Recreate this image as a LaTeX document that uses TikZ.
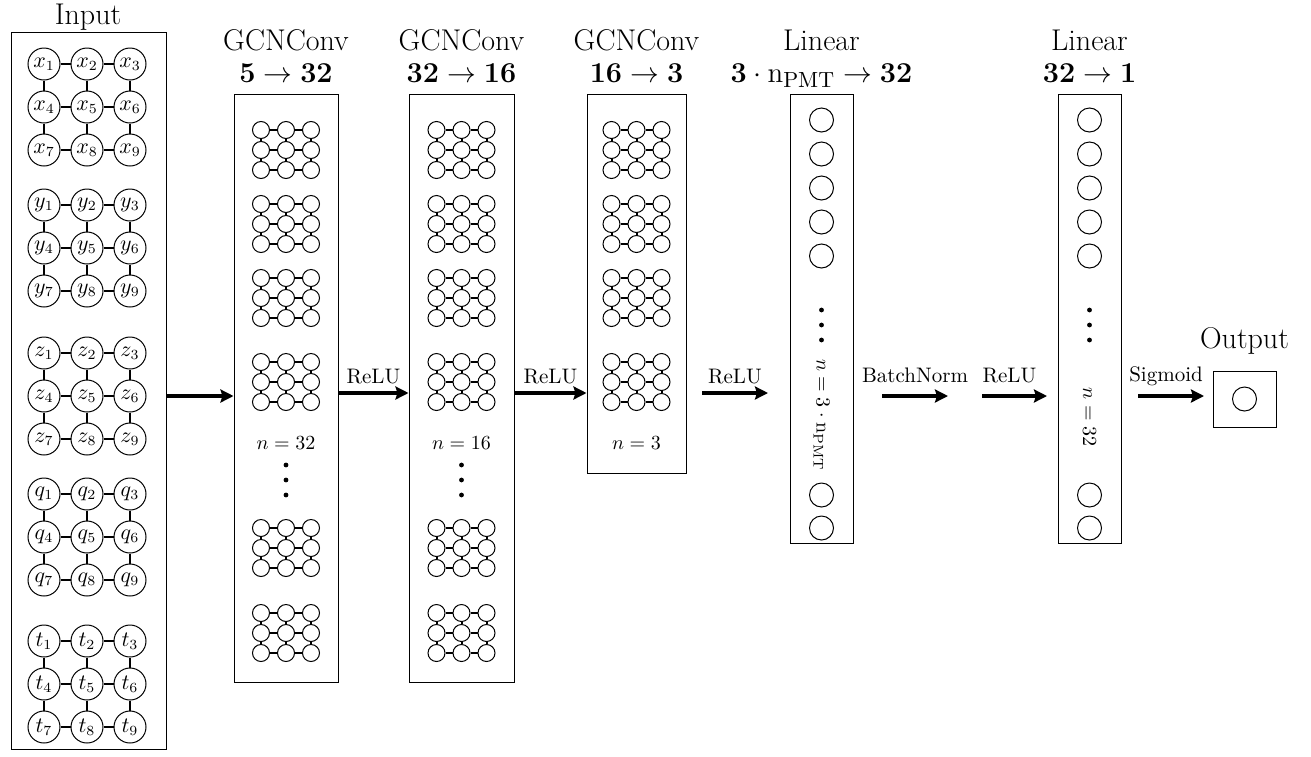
\documentclass[tikz,border=0pt]{standalone}
\usetikzlibrary{arrows.meta,fit}
\newcommand{\ingraph}[3]{% #1 letter, #2 top y, #3 prefix
  \foreach \ii in {0,1,2}{
    \foreach \jj in {0,1,2}{
      \pgfmathtruncatemacro{\kk}{3*\ii+\jj+1}
      \node[inc] (#3-\ii\jj) at ({44+43*\jj},{#2+43*\ii}) {$#1_{\kk}$};
    }
  }
  \foreach \ii in {0,1,2}{\draw[edge] (#3-\ii0) -- (#3-\ii1) (#3-\ii1) -- (#3-\ii2);}
  \foreach \jj in {0,1,2}{\draw[edge] (#3-0\jj) -- (#3-1\jj) (#3-1\jj) -- (#3-2\jj);}
}
\newcommand{\smgraph}[3]{% #1 prefix, #2 x centre, #3 top y
  \foreach \ii in {0,1,2}{
    \foreach \jj in {0,1,2}{
      \node[sg] (#1-\ii\jj) at ({#2+25*(\jj-1)},{#3+20*\ii}) {};
    }
  }
  \foreach \ii in {0,1,2}{\draw[edge] (#1-\ii0) -- (#1-\ii1) (#1-\ii1) -- (#1-\ii2);}
  \foreach \jj in {0,1,2}{\draw[edge] (#1-0\jj) -- (#1-1\jj) (#1-1\jj) -- (#1-2\jj);}
}
\begin{document}
\begin{tikzpicture}[x=0.5pt,y=-0.5pt,
  box/.style={draw, line width=0.5pt, inner sep=0pt},
  inc/.style={circle, draw, line width=0.5pt, minimum size=16pt, inner sep=0pt, font=\fontsize{10.5}{12}\selectfont},
  sg/.style={circle, draw, line width=0.5pt, minimum size=8.5pt, inner sep=0pt},
  lc/.style={circle, draw, line width=0.5pt, minimum size=12pt, inner sep=0pt},
  dot/.style={circle, fill, minimum size=2.4pt, inner sep=0pt},
  edge/.style={line width=1pt},
  arr/.style={line width=1.6pt, -{Stealth[length=6.5pt,width=6.5pt,inset=1pt]}},
  ttl/.style={anchor=base, inner sep=0.5pt, font=\fontsize{15}{18}\selectfont},
  lbl/.style={inner sep=0.5pt, font=\fontsize{10.5}{12}\selectfont},
  nlab/.style={inner sep=1pt, font=\fontsize{10}{12}\selectfont},
]
\useasboundingbox (0,0) rectangle (1311,756);

% ---------- Input ----------
\node[box, fit={(11,32) (166,749)}] (inbox) {};
\node[ttl] (intitle) at (88,24) {Input};
\ingraph{x}{64}{ix}
\ingraph{y}{205}{iy}
\ingraph{z}{353}{iz}
\ingraph{q}{494}{iq}
\ingraph{t}{641}{it}

% ---------- GCNConv 1 ----------
\node[box, fit={(234,94) (338,682)}] (gcn1) {};
\node[ttl] (g1t) at (286,50) {GCNConv};
\node[ttl] (g1n) at (286,82) {$\mathbf{5}\to\mathbf{32}$};
\smgraph{ga1}{286}{130}
\smgraph{ga2}{286}{204}
\smgraph{ga3}{286}{278}
\smgraph{ga4}{286}{362}
\node[nlab] (ga-n) at (286,443) {$n=32$};
\node[dot] (ga-d1) at (286,465) {};
\node[dot] (ga-d2) at (286,480) {};
\node[dot] (ga-d3) at (286,495) {};
\smgraph{ga5}{286}{528}
\smgraph{ga6}{286}{613}

% ---------- GCNConv 2 ----------
\node[box, fit={(409,94) (514,682)}] (gcn2) {};
\node[ttl] (g2t) at (461.5,50) {GCNConv};
\node[ttl] (g2n) at (461.5,82) {$\mathbf{32}\to\mathbf{16}$};
\smgraph{gb1}{461.5}{130}
\smgraph{gb2}{461.5}{204}
\smgraph{gb3}{461.5}{278}
\smgraph{gb4}{461.5}{362}
\node[nlab] (gb-n) at (461.5,443) {$n=16$};
\node[dot] (gb-d1) at (461.5,465) {};
\node[dot] (gb-d2) at (461.5,480) {};
\node[dot] (gb-d3) at (461.5,495) {};
\smgraph{gb5}{461.5}{528}
\smgraph{gb6}{461.5}{613}

% ---------- GCNConv 3 ----------
\node[box, fit={(587,94) (686,473)}] (gcn3) {};
\node[ttl] (g3t) at (636.5,50) {GCNConv};
\node[ttl] (g3n) at (636.5,82) {$\mathbf{16}\to\mathbf{3}$};
\smgraph{gc1}{636.5}{130}
\smgraph{gc2}{636.5}{204}
\smgraph{gc3}{636.5}{278}
\smgraph{gc4}{636.5}{362}
\node[nlab] (gc-n) at (636.5,443) {$n=3$};

% ---------- Linear 1 ----------
\node[box, fit={(790,94) (853,543)}] (lin1) {};
\node[ttl] (l1t) at (821.5,50) {Linear};
\node[ttl] (l1n) at (821.5,82) {$\mathbf{3}\cdot\mathrm{n}_{\mathrm{PMT}}\to\mathbf{32}$};
\foreach \yy [count=\nn] in {120,154,188,222,256,495,528}{
  \node[lc] (la\nn) at (821.5,\yy) {};
}
\node[dot] (la-d1) at (821.5,310) {};
\node[dot] (la-d2) at (821.5,325) {};
\node[dot] (la-d3) at (821.5,340) {};
\node[nlab, rotate=-90] (la-n) at (821.5,415) {$n=3\cdot\mathrm{n}_{\mathrm{PMT}}$};

% ---------- Linear 2 ----------
\node[box, fit={(1058,94) (1121,543)}] (lin2) {};
\node[ttl] (l2t) at (1089.5,50) {Linear};
\node[ttl] (l2n) at (1089.5,82) {$\mathbf{32}\to\mathbf{1}$};
\foreach \yy [count=\nn] in {120,154,188,222,256,495,528}{
  \node[lc] (lb\nn) at (1089.5,\yy) {};
}
\node[dot] (lb-d1) at (1089.5,310) {};
\node[dot] (lb-d2) at (1089.5,325) {};
\node[dot] (lb-d3) at (1089.5,340) {};
\node[nlab, rotate=-90] (lb-n) at (1089.5,417) {$n=32$};

% ---------- Output ----------
\node[box, fit={(1213,371) (1276,427)}] (outbox) {};
\node[ttl] (outtitle) at (1244.5,348) {Output};
\node[lc] (outc) at (outbox.center) {};

% ---------- Arrows ----------
\coordinate (a1) at (0,393);
\coordinate (a3s) at (702,393);
\coordinate (a3e) at (768,393);
\coordinate (a4s) at (882,396);
\coordinate (a4e) at (948,396);
\coordinate (a5s) at (982,396);
\coordinate (a5e) at (1047,396);
\coordinate (a6s) at (1138,396);
\coordinate (a6e) at (1204,396);

\draw[arr] (inbox.east |- iz-10) -- (gcn1.west |- iz-10);
\draw[arr] (gcn1.east |- a1) -- node[lbl, midway, anchor=base, yshift=5pt] {ReLU} (gcn2.west |- a1);
\draw[arr] (gcn2.east |- a1) -- node[lbl, midway, anchor=base, yshift=5pt] {ReLU} (gcn3.west |- a1);
\draw[arr] (a3s) -- node[lbl, midway, anchor=base, yshift=5pt] {ReLU} (a3e);
\draw[arr] (a4s) -- node[lbl, midway, anchor=base, yshift=7pt] {BatchNorm} (a4e);
\draw[arr] (a5s) -- node[lbl, midway, anchor=base, yshift=7pt, xshift=-2.5pt] {ReLU} (a5e);
\draw[arr] (a6s) -- node[lbl, midway, anchor=base, yshift=7.5pt, xshift=-2.5pt] {Sigmoid} (a6e);
\end{tikzpicture}
\end{document}
